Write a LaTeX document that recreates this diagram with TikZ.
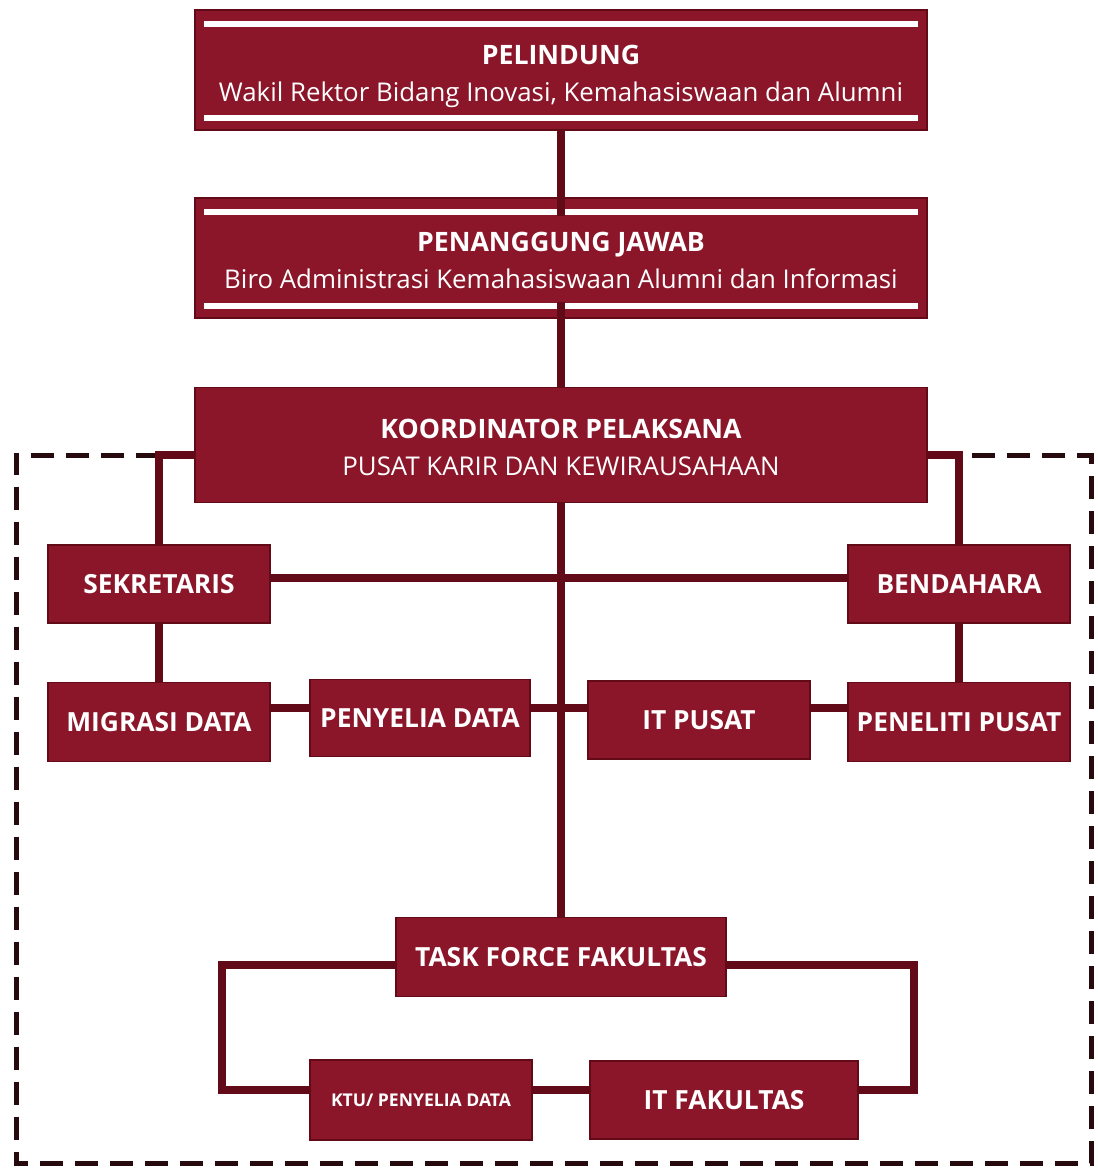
\documentclass[tikz,border=0pt]{standalone}
\usepackage{fontspec}
\setmainfont{Open Sans}
\usepackage{tikz}
\usetikzlibrary{positioning}

\definecolor{boxred}{RGB}{139,22,42}
\definecolor{linered}{RGB}{98,10,24}
\definecolor{dashdark}{RGB}{38,10,13}

\tikzset{
  unit/.style={draw=linered, line width=0.6pt, fill=boxred, text=white,
    font=\bfseries\fontsize{15}{17}\selectfont, align=center, inner sep=0pt,
    minimum width=44.4mm, minimum height=15.6mm},
  head/.style={unit, font=\fontsize{14.7}{21}\selectfont,
    minimum width=146.4mm, minimum height=24mm},
  link/.style={draw=linered, line width=1.6mm},
  stripe/.style={draw=white, line width=1.2mm},
  border/.style={draw=dashdark, line width=1mm, dash pattern=on 4.6mm off 2.4mm}
}

\begin{document}
\begin{tikzpicture}[x=0.2mm, y=-0.2mm]
      \useasboundingbox (0,0) rectangle (1097,1171);
      \coordinate (top) at (0,455); \coordinate (row) at (0,708);

      % upper levels
      \node[head] (pel) at (561, 70) {\rule{0pt}{18.5pt}\textbf{\fontsize{15.2}{17}\selectfont PELINDUNG}\\Wakil Rektor Bidang Inovasi, Kemahasiswaan dan Alumni};
      \node[head] (pj) at (561, 258) {\rule{0pt}{14.3pt}\textbf{\fontsize{15.2}{17}\selectfont PENANGGUNG JAWAB}\\Biro Administrasi Kemahasiswaan Alumni dan Informasi};
      \node[head, minimum height=23mm] (koor) at (561, 445) {\rule{0pt}{14.3pt}\textbf{\fontsize{15.2}{17}\selectfont KOORDINATOR PELAKSANA}\\PUSAT KARIR DAN KEWIRAUSAHAAN};

      % staff
      \node[unit] (sek) at (159, 584) {SEKRETARIS}; \node[unit] (ben) at (959, 584) {BENDAHARA};
      \node[unit, minimum height=15.8mm] (mig) at (159, 722) {MIGRASI DATA};
      \node[unit, minimum width=44mm, minimum height=15.4mm] (pen) at (420, 718) {PENYELIA DATA};
      \node[unit] (itp) at (699, 720) {IT PUSAT};
      \node[unit, minimum height=15.8mm] (pnl) at (959, 722) {PENELITI PUSAT};

      % faculty
      \node[unit, minimum width=66mm, minimum height=15.8mm] (tff) at (561, 957) {TASK FORCE FAKULTAS};
      \node[unit, minimum height=16mm, font=\bfseries\fontsize{10}{12}\selectfont] (ktu) at (421, 1100) {KTU/ PENYELIA DATA};
      \node[unit, minimum width=53.6mm] (itf) at (724, 1100) {IT FAKULTAS};

      \foreach \b in {pel,pj} {
        \draw[stripe] ([xshift=2mm,yshift=-3mm]\b.north west) -- ([xshift=-2mm,yshift=-3mm]\b.north east);
        \draw[stripe] ([xshift=2mm,yshift=2.6mm]\b.south west) -- ([xshift=-2mm,yshift=2.6mm]\b.south east);
      }

      \draw[border] (koor.west |- top) -- (16,455) -- (16,1163) -- (1091,1163) -- (1091,455) -- (koor.east |- top);

      \draw[link] (pel.south) -- ([yshift=-3.8mm]pj.north); \draw[link] ([yshift=3.4mm]pj.south) -- (koor.north);
      \draw[link] (koor.west |- top) -| (sek.north); \draw[link] (koor.east |- top) -| (ben.north);
      \draw[link] ([yshift=1.2mm]sek.east) -- ([yshift=1.2mm]ben.west);
      \draw[link] (sek.south) -- (mig.north); \draw[link] (ben.south) -- (pnl.north);
      \draw[link] (mig.east |- row) -- (pen.west |- row); \draw[link] (pen.east |- row) -- (itp.west |- row);
      \draw[link] (itp.east |- row) -- (pnl.west |- row);
      \draw[link] (koor.south) -- (tff.north);
      \draw[link] ([yshift=-1.6mm]tff.west) -- ++(-173,0) |- ([yshift=2mm]ktu.west);
      \draw[link] ([yshift=-1.6mm]tff.east) -- ++(187,0) |- ([yshift=2mm]itf.east);
      \draw[link] ([yshift=2mm]ktu.east) -- ([yshift=2mm]itf.west);
    \end{tikzpicture}
\end{document}
